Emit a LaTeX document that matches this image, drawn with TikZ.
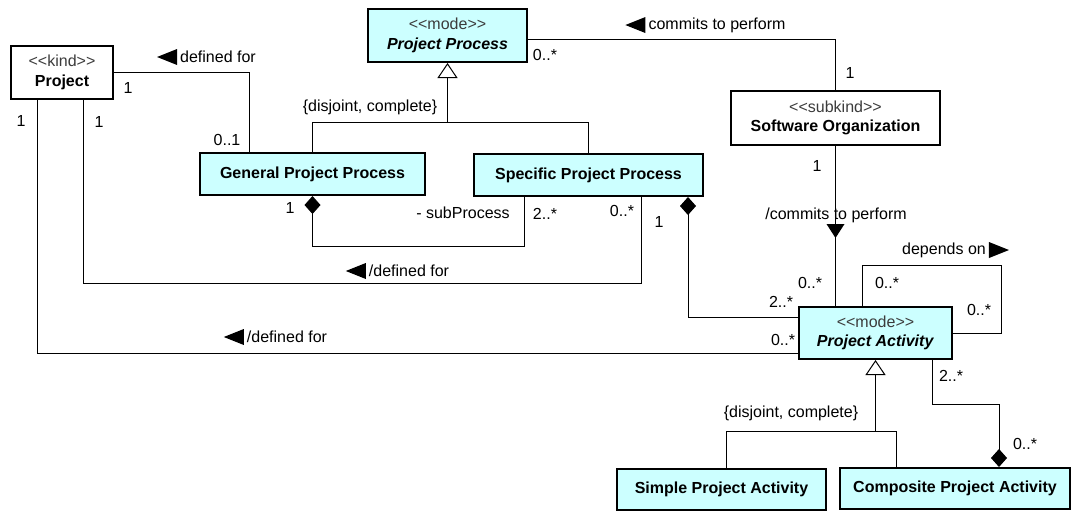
\documentclass[tikz,border=0pt]{standalone}
\usepackage{fontspec}
\setmainfont{Liberation Sans}
\usetikzlibrary{arrows.meta}
\definecolor{modecyan}{RGB}{204,255,255}
\definecolor{stereogray}{RGB}{60,60,60}
\newcommand{\stereo}[1]{{\color{stereogray}<{}<#1>{}>}}

\tikzset{every picture/.style={line width=0.75pt}}
\tikzset{
  umlclass/.style={draw, line width=1.5pt, fill=white, align=center, inner sep=0pt, font=\fontsize{12}{14.5}\selectfont},
  umlmode/.style={umlclass, fill=modecyan},
  mult/.style={font=\fontsize{12}{14}\selectfont, inner sep=1pt},
  assoc/.style={font=\fontsize{12}{14}\selectfont, inner sep=2pt},
  gentip/.style={-{Triangle[open,length=11.25pt,width=15pt]}},
  comptip/.style={{Diamond[length=13.5pt,width=12pt]}-},
  navleft/.pic={\fill (0,0) -- (0,-8) -- (-20,0) -- (0,8) -- cycle;},
  navright/.pic={\fill (0,0) -- (0,-8) -- (20,0) -- (0,8) -- cycle;},
  navdown/.pic={\fill (0,0) -- (-9,14) -- (9,14) -- cycle;}
}

\begin{document}
\begin{tikzpicture}[x=0.75pt,y=0.75pt,yscale=-1,xscale=1]
	\useasboundingbox (0,0) rectangle (1071,512);

	%Shape: Rectangle [kind]
	\node[umlclass, minimum width=76.5pt, minimum height=39.75pt] (proj) at (62,72.5) {\stereo{kind}\\\textbf{Project}};
	%Shape: Rectangle [mode]
	\node[umlmode, minimum width=119.25pt, minimum height=39.75pt] (pp) at (447.5,35.5) {\stereo{mode}\\\textbf{\textit{Project Process}}};
	%Shape: Rectangle [subkind]
	\node[umlclass, minimum width=156.75pt, minimum height=40.5pt] (so) at (835.5,118) {\stereo{subkind}\\\textbf{Software Organization}};
	%Shape: Rectangle
	\node[umlmode, minimum width=168.75pt, minimum height=31.5pt] (gpp) at (312.5,174) {\textbf{General Project Process}};
	%Shape: Rectangle
	\node[umlmode, minimum width=171.75pt, minimum height=31.5pt] (spp) at (588.5,175) {\textbf{Specific Project Process}};
	%Shape: Rectangle [mode]
	\node[umlmode, minimum width=114.75pt, minimum height=39pt] (pa) at (875.5,333) {\stereo{mode}\\\textbf{\textit{Project Activity}}};
	%Shape: Rectangle
	\node[umlmode, minimum width=156.75pt, minimum height=30.75pt] (spa) at (721.5,489.5) {\textbf{Simple Project Activity}};
	%Shape: Rectangle
	\node[umlmode, minimum width=172.5pt, minimum height=30.75pt] (cpa) at (955,488.5) {\textbf{Composite Project Activity}};

	%Straight Lines [defined for]
	\draw (proj.east) -| (249,0 |- gpp.north);
	%Straight Lines [subProcess]
	\draw[comptip] (gpp.south) -- (gpp.south |- 0,246) -| (524,0 |- spp.south);
	%Straight Lines [generalization set]
	\draw (gpp.north) |- (spp.north |- 0,122) -- (spp.north);
	\draw[gentip] (pp.south |- 0,122) -- (pp.south);
	%Straight Lines [commits to perform]
	\draw (pp.east |- 0,39) -| (so.north);
	%Straight Lines [/commits to perform]
	\draw (so.south) -- (so.south |- pa.north);
	%Straight Lines [composition]
	\draw[comptip] (688,0 |- spp.south) |- (pa.west |- 0,317);
	%Straight Lines [/defined for]
	\draw (641,0 |- spp.south) -- (641,283) -| (83,0 |- proj.south);
	%Straight Lines [/defined for]
	\draw (37,0 |- proj.south) |- (pa.west |- 0,353);
	%Straight Lines [depends on]
	\draw (862,0 |- pa.north) |- (1001,265) |- (pa.east);
	%Straight Lines [generalization set]
	\draw (726,0 |- spa.north) |- (pa.south |- 0,431) -| (896,0 |- cpa.north);
	\draw[gentip] (pa.south |- 0,431) -- (pa.south);
	%Straight Lines [composition]
	\draw[comptip] (999,0 |- cpa.north) -- (999,404) -| (932,0 |- pa.south);

	% Text Node
	\node[assoc] (lDefGen) at (218,57) {defined for};
	\pic at (lDefGen.west) {navleft};
	% Text Node
	\node[assoc] (lCommit) at (717,25) {commits to perform};
	\pic at (lCommit.west) {navleft};
	% Text Node
	\node[assoc] (lDefSpec) at (409,271) {/defined for};
	\pic at (lDefSpec.west) {navleft};
	% Text Node
	\node[assoc] (lDefAct) at (287,337) {/defined for};
	\pic at (lDefAct.west) {navleft};
	% Text Node
	\node[assoc] (lCommitD) at (836,215) {/commits to perform};
	\pic at (so.south |- 0,238) {navdown};
	% Text Node
	\node[assoc] (lDep) at (944,250) {depends on};
	\pic at (lDep.east) {navright};
	% Text Node
	\node[assoc] (lGenP) at (370,107) {\{disjoint, complete\}};
	% Text Node
	\node[assoc] (lGenA) at (791,413) {\{disjoint, complete\}};

	% Text Node
	\node[mult] (mPdf) at (128,88) {1};
	\node[mult] (mGdf) at (227,140) {0..1};
	\node[mult] (mPpc) at (545,55) {0..*};
	\node[mult] (mSoc) at (850,73) {1};
	\node[mult] (mSop) at (817,166) {1};
	\node[mult] (mPas) at (810,283) {0..*};
	\node[mult] (mPac) at (781,302) {2..*};
	\node[mult] (mSpc) at (659,222) {1};
	\node[mult] (mSpd) at (622,211) {0..*};
	\node[mult] (mPrd) at (99,122) {1};
	\node[mult] (mGsc) at (290,208) {1};
	\node[mult] (mSsp) at (545,214) {2..*};
	\node[mult] (mSub) at (463,213) {- subProcess};
	\node[mult] (mPrl) at (21,121) {1};
	\node[mult] (mPal) at (783,340) {0..*};
	\node[mult] (mDep1) at (887,283) {0..*};
	\node[mult] (mDep2) at (979,310) {0..*};
	\node[mult] (mCpw) at (951,376) {2..*};
	\node[mult] (mCpp) at (1025,444) {0..*};

\end{tikzpicture}
\end{document}
